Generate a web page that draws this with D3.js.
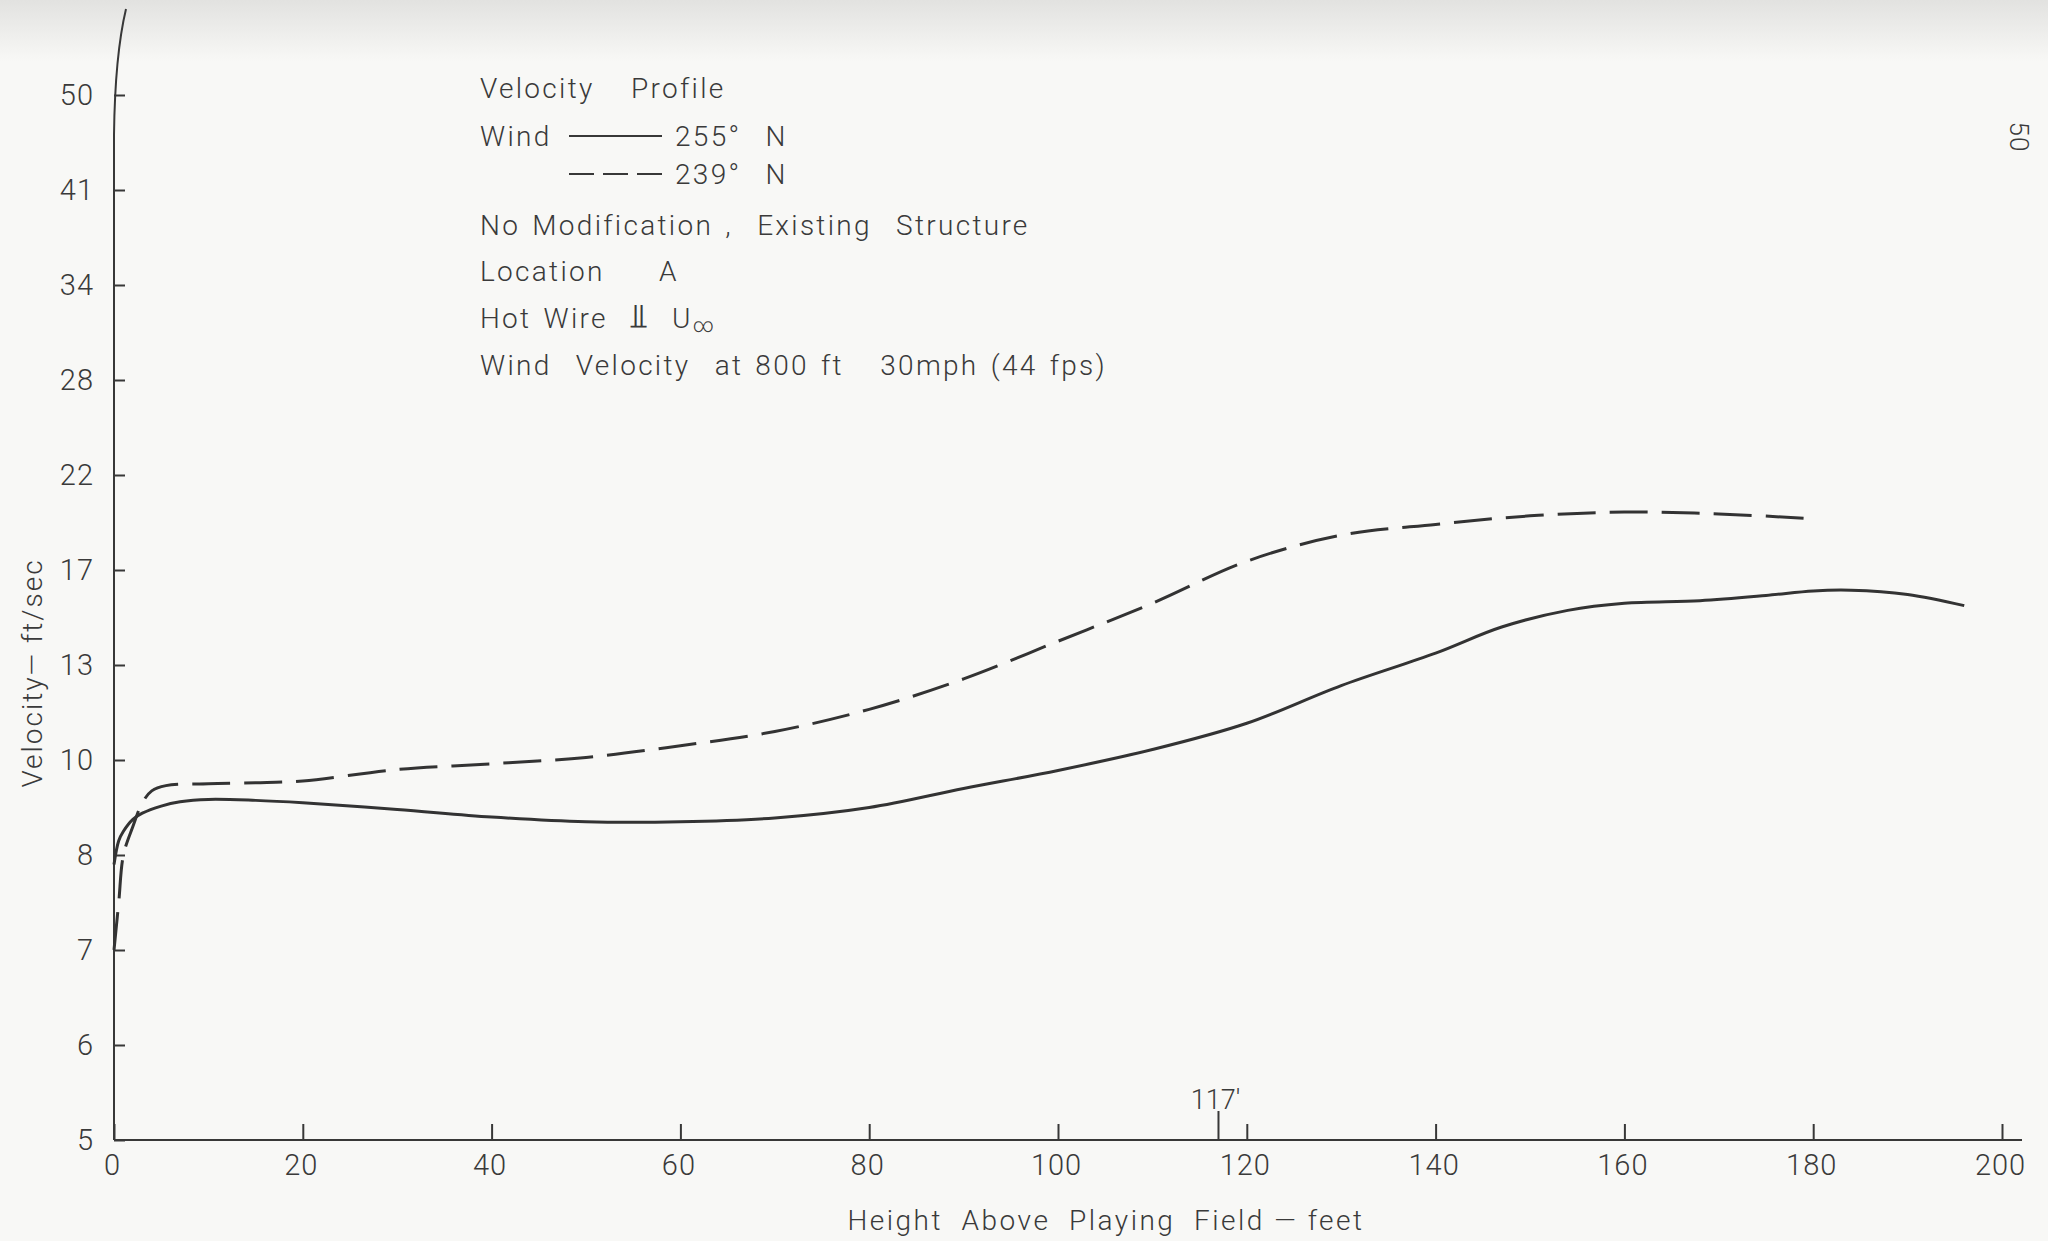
<!DOCTYPE html>
<html>
<head>
<meta charset="utf-8">
<script src="https://cdn.jsdelivr.net/npm/d3@7"></script>
<style>
  body { margin: 0; background: #f8f8f6; }
  text { font-family: Roboto, "DejaVu Sans", sans-serif; font-weight: 300; fill: #3a3a3a; white-space: pre; }
</style>
</head>
<body>
<div id="chart"></div>
<script>
// Data
// ================================
var xTicks = [0, 20, 40, 60, 80, 100, 120, 140, 160, 180, 200];
var yTicks = [5, 6, 7, 8, 10, 13, 17, 22, 28, 34, 41, 50];

// wind 255 deg N (solid)
var height255 = [0, 0.5, 1, 2, 3, 5, 7, 10, 15, 20, 30, 40, 50, 60, 70, 80, 90, 100, 110, 120, 130, 140, 147, 154, 160, 168, 175, 180, 184, 190, 196];
var vel255 = [7.9, 8.3, 8.5, 8.75, 8.88, 9.03, 9.12, 9.17, 9.15, 9.1, 8.96, 8.8, 8.7, 8.7, 8.78, 9.0, 9.4, 9.78, 10.33, 11.16, 12.35, 13.5, 14.6, 15.3, 15.6, 15.71, 15.93, 16.12, 16.15, 15.97, 15.5];

// wind 239 deg N (dashed)
var height239 = [0, 0.5, 1, 2, 3, 4, 5.5, 10, 15, 20, 30, 40, 50, 60, 70, 80, 90, 100, 110, 120, 130, 140, 150, 160, 170, 180];
var vel239 = [7.0, 7.5, 8.0, 8.6, 9.1, 9.35, 9.46, 9.5, 9.52, 9.56, 9.8, 9.92, 10.08, 10.45, 10.9, 11.6, 12.56, 14.0, 15.6, 17.46, 18.83, 19.4, 19.85, 20.05, 19.95, 19.7];

var markHeight = 117;

// Set up chart
// ================================
var svgWidth = 2048;
var svgHeight = 1241;

var margin = { top: 95, right: 46, bottom: 101, left: 114 };
var width = 2002 - margin.left;
var height = svgHeight - margin.top - margin.bottom;

var ink = "#383838";

var svg = d3.select("#chart")
  .append("svg")
  .attr("width", svgWidth)
  .attr("height", svgHeight);

// paper, a bit darker at the top edge
var grad = svg.append("defs").append("linearGradient")
  .attr("id", "paper").attr("x1", 0).attr("y1", 0).attr("x2", 0).attr("y2", 1);
grad.append("stop").attr("offset", "0").attr("stop-color", "#e2e2e0");
grad.append("stop").attr("offset", "0.05").attr("stop-color", "#f8f8f6");
grad.append("stop").attr("offset", "1").attr("stop-color", "#f8f8f6");
svg.append("rect").attr("width", svgWidth).attr("height", svgHeight).attr("fill", "url(#paper)");

var chartGroup = svg.append("g")
  .attr("transform", `translate(${margin.left}, ${margin.top})`);

// scales: y ticks are evenly spaced on the paper
var xLinearScale = d3.scaleLinear().domain([0, 200]).range([0, width]);
var yScale = d3.scaleLinear()
  .domain(yTicks)
  .range(yTicks.map((d, i) => height - i * height / (yTicks.length - 1)));

// axes
var bottomAxis = d3.axisBottom(xLinearScale).tickValues(xTicks).tickSize(-16).tickPadding(14).tickSizeOuter(0);
var leftAxis = d3.axisLeft(yScale).tickValues(yTicks).tickSize(-11).tickPadding(20).tickSizeOuter(0);

var xAxisG = chartGroup.append("g")
  .attr("transform", `translate(0, ${height})`)
  .call(bottomAxis);
var yAxisG = chartGroup.append("g").call(leftAxis);

[xAxisG, yAxisG].forEach(function (g) {
  g.select(".domain").remove();
  g.selectAll("line").attr("stroke", ink).attr("stroke-width", 2);
  g.selectAll("text").attr("fill", ink).style("font-size", "29px").style("letter-spacing", "1px").attr("font-family", null);
});
xAxisG.selectAll("text").attr("dx", -2);

// hand drawn axis lines
chartGroup.append("path")
  .attr("d", `M0,${height} L${width + 20},${height}`)
  .attr("stroke", ink).attr("stroke-width", 2.2).attr("fill", "none");
chartGroup.append("path")
  .attr("d", `M0,${height} L0,40 Q1,-40 12,-86`)
  .attr("stroke", ink).attr("stroke-width", 2).attr("fill", "none");

// 117' mark
chartGroup.append("line")
  .attr("x1", xLinearScale(markHeight)).attr("x2", xLinearScale(markHeight))
  .attr("y1", height).attr("y2", height - 29)
  .attr("stroke", ink).attr("stroke-width", 2);
chartGroup.append("text")
  .attr("x", xLinearScale(markHeight) - 3)
  .attr("y", height - 31)
  .attr("text-anchor", "middle")
  .style("font-size", "27px")
  .text(markHeight + "'");

// curves
var line = d3.line()
  .x(d => xLinearScale(d[0]))
  .y(d => yScale(d[1]))
  .curve(d3.curveCatmullRom.alpha(0.5));

chartGroup.append("path")
  .datum(d3.zip(height255, vel255))
  .attr("d", line)
  .attr("fill", "none")
  .attr("stroke", "#333")
  .attr("stroke-width", 3);

chartGroup.append("path")
  .datum(d3.zip(height239, vel239))
  .attr("d", line)
  .attr("fill", "none")
  .attr("stroke", "#333")
  .attr("stroke-width", 3)
  .attr("stroke-dasharray", "38,14");

// axis titles
svg.append("text")
  .attr("x", 1106).attr("y", 1230)
  .attr("text-anchor", "middle")
  .style("font-size", "28px")
  .style("letter-spacing", "2.5px")
  .text("Height  Above  Playing  Field — feet");

svg.append("text")
  .attr("transform", "translate(42, 673) rotate(-90)")
  .attr("text-anchor", "middle")
  .style("font-size", "28px")
  .style("letter-spacing", "2px")
  .text("Velocity— ft/sec");

// page number
svg.append("text")
  .attr("transform", "translate(2010, 137) rotate(90)")
  .attr("text-anchor", "middle")
  .style("font-size", "26px")
  .style("letter-spacing", "1px")
  .attr("fill", "#555")
  .text("50");

// notes block
var notes = svg.append("g").attr("transform", "translate(480, 0)")
  .style("font-size", "28px").style("letter-spacing", "2.3px").style("word-spacing", "3px");
notes.append("text").attr("y", 98).attr("fill", "#555").text("Velocity   Profile");
notes.append("text").attr("y", 146).text("Wind");
notes.append("line").attr("x1", 89).attr("x2", 182).attr("y1", 136).attr("y2", 136)
  .attr("stroke", ink).attr("stroke-width", 2);
notes.append("text").attr("x", 195).attr("y", 146).text("255°  N");
notes.append("line").attr("x1", 89).attr("x2", 182).attr("y1", 174).attr("y2", 174)
  .attr("stroke", ink).attr("stroke-width", 2).attr("stroke-dasharray", "25,9");
notes.append("text").attr("x", 195).attr("y", 184).text("239°  N");
notes.append("text").attr("y", 235).text("No Modification ,  Existing  Structure");
notes.append("text").attr("y", 281).text("Location");
notes.append("text").attr("x", 179).attr("y", 281).text("A");
notes.append("text").attr("y", 328).text("Hot Wire");
notes.append("text").attr("x", 149).attr("y", 328).attr("font-family", "DejaVu Sans")
  .style("font-weight", 200).style("font-size", "34px").text("⫫");
var u = notes.append("text").attr("x", 192).attr("y", 328);
u.append("tspan").text("U");
u.append("tspan").attr("dy", 4).style("font-size", "20px").style("letter-spacing", "0px").text("∞");
notes.append("text").attr("y", 375).text("Wind  Velocity  at 800 ft   30mph (44 fps)");
</script>
</body>
</html>
